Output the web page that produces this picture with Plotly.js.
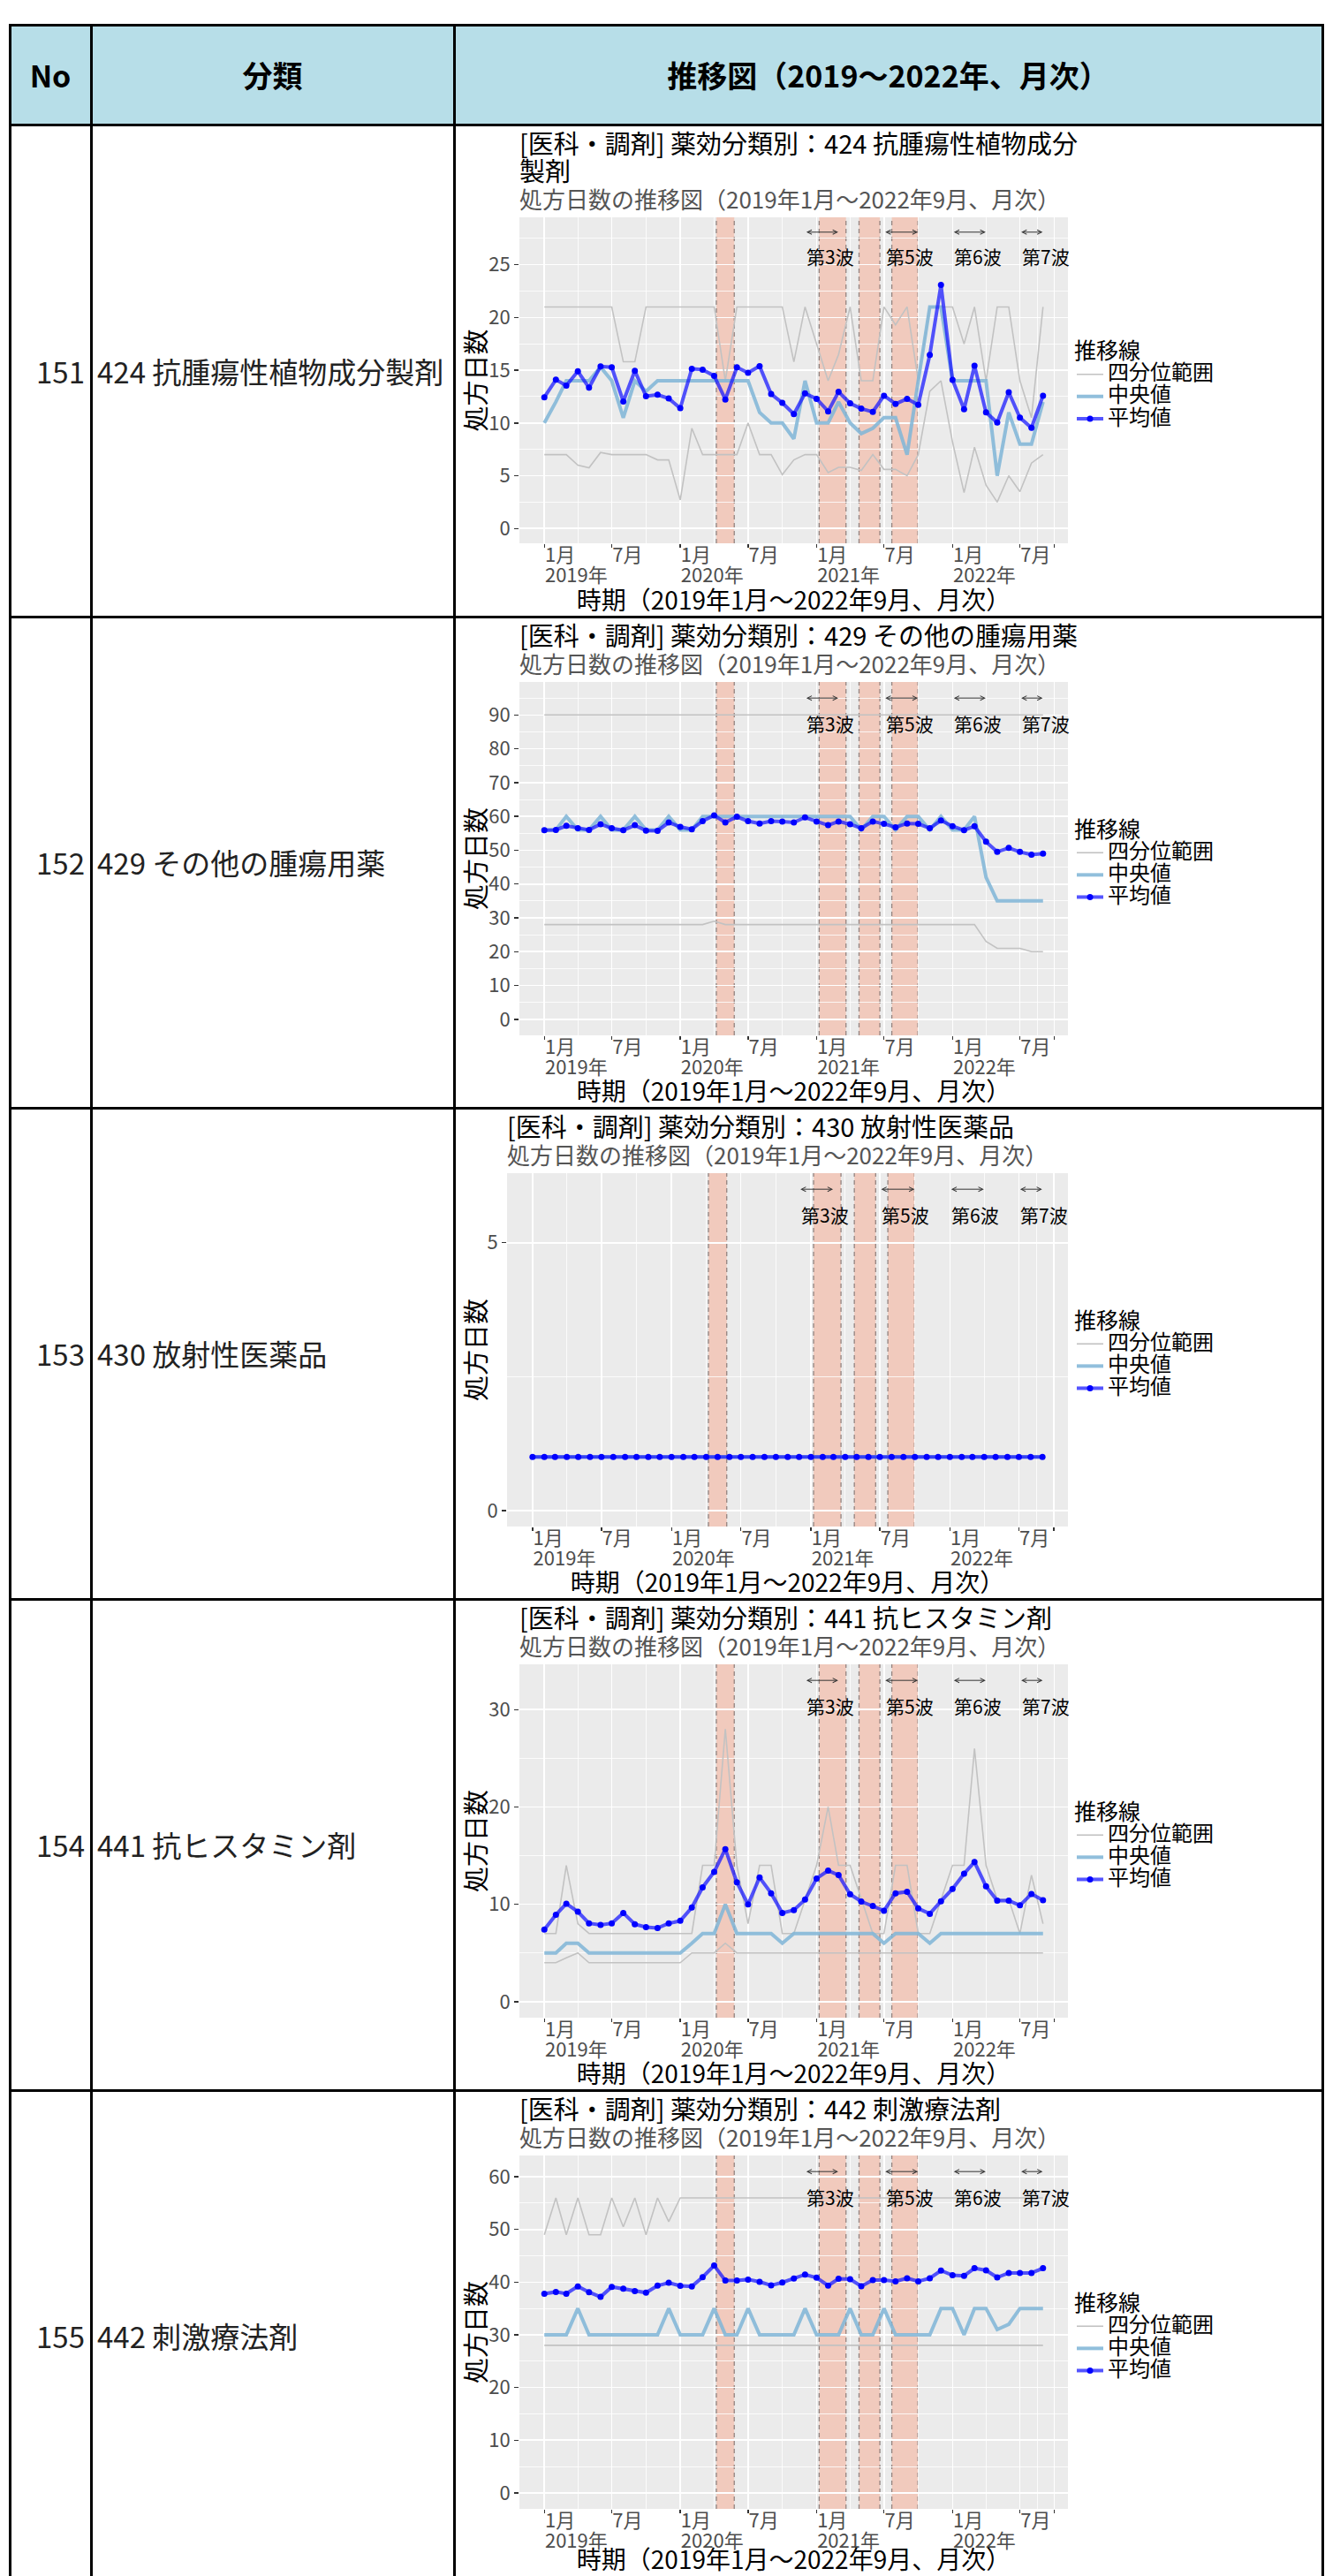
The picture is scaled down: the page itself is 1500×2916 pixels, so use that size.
<!DOCTYPE html>
<html lang="ja">
<head>
<meta charset="utf-8">
<title>推移図（2019～2022年、月次）</title>
<script src="https://cdn.plot.ly/plotly-3.0.1.min.js"></script>
<style>
  html, body { margin:0; padding:0; background:#fff; }
  body { width:1500px; height:2916px; overflow:hidden; position:relative; font-family:'Noto Sans CJK JP','Noto Sans',sans-serif; }
  .hdr { position:absolute; background:#B7DEE8; }
  .htxt { position:absolute; display:flex; align-items:center; justify-content:center; font-weight:700; font-size:34px; color:#000; white-space:nowrap; }
  .bline { position:absolute; background:#000; z-index:5; }
  .no { position:absolute; display:flex; align-items:center; justify-content:flex-end; font-size:33px; color:#222; padding-right:7px; box-sizing:border-box; }
  .cat { position:absolute; display:flex; align-items:center; justify-content:flex-start; font-size:33px; color:#222; padding-left:7px; box-sizing:border-box; white-space:nowrap; }
  .chart { position:absolute; }
</style>
</head>
<body>
<script>
// ---------------- data ----------------
const months = ['2019-01-01','2019-02-01','2019-03-01','2019-04-01','2019-05-01','2019-06-01','2019-07-01','2019-08-01','2019-09-01','2019-10-01','2019-11-01','2019-12-01',
  '2020-01-01','2020-02-01','2020-03-01','2020-04-01','2020-05-01','2020-06-01','2020-07-01','2020-08-01','2020-09-01','2020-10-01','2020-11-01','2020-12-01',
  '2021-01-01','2021-02-01','2021-03-01','2021-04-01','2021-05-01','2021-06-01','2021-07-01','2021-08-01','2021-09-01','2021-10-01','2021-11-01','2021-12-01',
  '2022-01-01','2022-02-01','2022-03-01','2022-04-01','2022-05-01','2022-06-01','2022-07-01','2022-08-01','2022-09-01'];

const rowNos = ['151','152','153','154','155'];
const rowLabels = ['424 抗腫瘍性植物成分製剤','429 その他の腫瘍用薬','430 放射性医薬品','441 抗ヒスタミン剤','442 刺激療法剤'];
const chartTitles = ['[医科・調剤] 薬効分類別：424 抗腫瘍性植物成分<br>製剤',
  '[医科・調剤] 薬効分類別：429 その他の腫瘍用薬',
  '[医科・調剤] 薬効分類別：430 放射性医薬品',
  '[医科・調剤] 薬効分類別：441 抗ヒスタミン剤',
  '[医科・調剤] 薬効分類別：442 刺激療法剤'];
const subTitle = '処方日数の推移図（2019年1月～2022年9月、月次）';
const xTitle = '時期（2019年1月～2022年9月、月次）';
const yTitle = '処方日数';
const headerTexts = ['No','分類','推移図（2019～2022年、月次）'];
const legendTitle = '推移線';
const seriesNames = ['四分位範囲','中央値','平均値'];

const xTickVals = ['2019-01-01','2019-07-01','2020-01-01','2020-07-01','2021-01-01','2021-07-01','2022-01-01','2022-07-01','2022-10-01'];
const xTickMonth = ['1月','7月','1月','7月','1月','7月','1月','7月',''];
const xTickYear  = ['2019年','','2020年','','2021年','','2022年','',''];
const xMinorVals = ['2019-04-01','2019-10-01','2020-04-01','2020-10-01','2021-04-01','2021-10-01','2022-04-01','2022-08-16'];

const emergencyStart = ['2020-04-07','2021-01-08','2021-04-25','2021-07-22'];
const emergencyEnd   = ['2020-05-25','2021-03-21','2021-06-20','2021-09-30'];
const waveLabels = ['第3波','第5波','第6波','第7波'];
const waveStart  = ['2020-12-01','2021-07-01','2022-01-01','2022-07-01'];
const waveEnd    = ['2021-02-28','2021-09-30','2022-03-31','2022-08-31'];

// 424
const mean424 = [12.44,14.1,13.55,14.9,13.35,15.36,15.28,12.04,14.94,12.54,12.68,12.32,11.4,15.14,15.06,14.47,12.23,15.28,14.75,15.39,12.74,11.9,10.84,12.8,12.29,11.1,12.95,11.87,11.36,11.06,12.59,11.81,12.29,11.72,16.45,23.09,14.08,11.3,15.43,11.0,10.05,12.92,10.5,9.54,12.59];
const med424  = [10,12,14,14,14,15.3,14,10.5,14,13,14,14,14,14,14,14,14,14,14,11,10,10,8.5,14,10,10,12,10,9,9.5,10.5,10.5,7,14,21,21,14,14,14,14,5,11,8,8,12];
const q1_424  = [7,7,7,6,5.75,7.2,7,7,7,7,6.5,6.5,2.7,9.5,7,7,7,7,10,7,7,5.1,6.5,7,7,5.3,5.8,5.8,5.5,7,5.6,5.6,5,7,13,14,8.2,3.4,7.7,4.1,2.5,5,3.5,6.2,7];
const q3_424  = [21,21,21,21,21,21,21,15.8,15.8,21,21,21,21,21,21,21,14,21,21,21,21,21,15.8,21,17.5,14,16.5,21,14,14,21,19.3,21,14,21,21,21,17.5,21,14,21,21,14,10.5,21];
// 429
const mean429 = [55.94,56.0,57.2,56.5,56.0,57.7,56.5,55.9,57.4,55.8,55.75,58.2,56.9,56.2,58.6,60.3,58.2,59.9,58.6,57.9,58.6,58.5,58.2,59.7,58.5,57.4,58.5,57.7,56.5,58.5,57.8,56.8,57.9,57.8,56.5,58.8,57.1,55.9,57.1,52.5,49.5,50.7,49.5,48.7,49.0];
const med429  = [56,56,60,56,56,60,56,56,60,56,56,60,56,56,60,60,60,60,60,60,60,60,60,60,60,60,60,60,56,60,60,56,60,60,56,60,56,56,60,42,35,35,35,35,35];
const q1_429  = [28,28,28,28,28,28,28,28,28,28,28,28,28,28,28,29,28,28,28,28,28,28,28,28,28,28,28,28,28,28,28,28,28,28,28,28,28,28,28,23,21,21,21,20,20];
const q3_429  = [90,90,90,90,90,90,90,90,90,90,90,90,90,90,90,90,90,90,90,90,90,90,90,90,90,90,90,90,90,90,90,90,90,90,90,90,90,90,90,90,90,90,90,90,90];
// 430
const mean430 = [1,1,1,1,1,1,1,1,1,1,1,1,1,1,1,1,1,1,1,1,1,1,1,1,1,1,1,1,1,1,1,1,1,1,1,1,1,1,1,1,1,1,1,1,1];
const med430  = [1,1,1,1,1,1,1,1,1,1,1,1,1,1,1,1,1,1,1,1,1,1,1,1,1,1,1,1,1,1,1,1,1,1,1,1,1,1,1,1,1,1,1,1,1];
const q1_430  = [1,1,1,1,1,1,1,1,1,1,1,1,1,1,1,1,1,1,1,1,1,1,1,1,1,1,1,1,1,1,1,1,1,1,1,1,1,1,1,1,1,1,1,1,1];
const q3_430  = [1,1,1,1,1,1,1,1,1,1,1,1,1,1,1,1,1,1,1,1,1,1,1,1,1,1,1,1,1,1,1,1,1,1,1,1,1,1,1,1,1,1,1,1,1];
// 441
const mean441 = [7.4,8.92,10.06,9.24,8.04,7.88,8.04,9.11,7.95,7.65,7.56,8.04,8.3,9.67,11.74,13.33,15.67,12.26,9.99,12.75,11.13,9.11,9.41,10.48,12.65,13.46,13.0,11.03,10.28,9.83,9.34,11.13,11.29,9.57,9.02,10.31,11.58,13.14,14.34,11.84,10.38,10.38,9.89,11.06,10.41];
const med441  = [5,5,6,6,5,5,5,5,5,5,5,5,5,6,7,7,10,7,7,7,7,6,7,7,7,7,7,7,7,7,6,7,7,7,6,7,7,7,7,7,7,7,7,7,7];
const q1_441  = [4,4,4.5,5,4,4,4,4,4,4,4,4,4,5,5,5,6,5,5,5,5,5,5,5,5,5,5,5,5,5,5,5,5,5,5,5,5,5,5,5,5,5,5,5,5];
const q3_441  = [7,7,14,8,7,7,7,7,7,7,7,7,7,7,14,14,28,14,8,14,14,7,7,10.5,14,20,14,14,10.5,7,7,14,14,7,7,10.5,14,14,26,14,10.5,10.5,7,13,8];
// 442
const mean442 = [37.8,38.15,37.8,39.2,38.1,37.2,39.1,38.75,38.3,38.0,39.35,39.9,39.3,39.2,40.95,43.15,40.3,40.3,40.5,40.06,39.4,39.94,40.7,41.45,40.85,39.35,40.65,40.55,39.22,40.4,40.4,40.15,40.75,40.15,40.75,42.2,41.3,41.2,42.65,42.25,40.9,41.75,41.75,41.75,42.65];
const med442  = [30,30,30,35,30,30,30,30,30,30,30,35,30,30,30,35,30,30,35,30,30,30,30,35,30,30,30,35,30,30,35,30,30,30,30,35,35,30,35,35,31,32,35,35,35];
const q1_442  = [28,28,28,28,28,28,28,28,28,28,28,28,28,28,28,28,28,28,28,28,28,28,28,28,28,28,28,28,28,28,28,28,28,28,28,28,28,28,28,28,28,28,28,28,28];
const q3_442  = [49,56,49,56,49,49,56,50.5,56,49,56,51.5,56,56,56,56,56,56,56,56,56,56,56,56,56,56,56,56,56,56,56,56,56,56,56,56,56,56,56,56,56,56,56,56,56];

// ---------------- layout settings ----------------
const FONT = "'Noto Sans CJK JP','Noto Sans',sans-serif";
const ROW_Y = [28, 141, 698, 1254, 1810, 2366, 2922];
const COL_X = [11, 103, 514, 1497];
const PAGE_H = 2916;
const yDtick = [5, 10, 5, 10, 10];
const COLORS = { iqr:'#C2C2C2', med:'rgba(130,182,215,0.88)', meanLine:'rgba(20,20,255,0.72)', meanPt:'#0000FF',
  band:'#F1CABD', bandEdge:'rgba(125,110,108,0.8)', panel:'#EBEBEB', tick:'#4D4D4D' };

const seriesList = [
  {mean: mean424, med: med424, q1: q1_424, q3: q3_424},
  {mean: mean429, med: med429, q1: q1_429, q3: q3_429},
  {mean: mean430, med: med430, q1: q1_430, q3: q3_430},
  {mean: mean441, med: med441, q1: q1_441, q3: q3_441},
  {mean: mean442, med: med442, q1: q1_442, q3: q3_442}
];

function el(cls, l, t, w, h, txt) {
  const d = document.createElement('div');
  d.className = cls;
  d.style.left = l + 'px'; d.style.top = t + 'px';
  d.style.width = w + 'px'; d.style.height = h + 'px';
  if (txt !== undefined) d.textContent = txt;
  document.body.appendChild(d);
  return d;
}

// header
el('hdr', COL_X[0], ROW_Y[0], COL_X[3] - COL_X[0], ROW_Y[1] - ROW_Y[0]);
for (let c = 0; c < 3; c++) {
  el('htxt', COL_X[c], ROW_Y[0], COL_X[c+1] - COL_X[c], ROW_Y[1] - ROW_Y[0], headerTexts[c]);
}
// row texts
for (let r = 0; r < rowNos.length; r++) {
  const top = ROW_Y[r+1], h = ROW_Y[r+2] - ROW_Y[r+1];
  el('no', COL_X[0], top, COL_X[1] - COL_X[0], h, rowNos[r]);
  el('cat', COL_X[1], top, COL_X[2] - COL_X[1], h, rowLabels[r]);
}
// borders
ROW_Y.slice(0, 6).forEach(y => el('bline', COL_X[0] - 1.5, y - 1.5, COL_X[3] - COL_X[0] + 3, 3));
COL_X.forEach(x => el('bline', x - 1.5, ROW_Y[0] - 1.5, 3, PAGE_H - ROW_Y[0] + 10));

// x range: 5% expansion like ggplot
function fmt(ms) { return new Date(ms).toISOString().slice(0, 19).replace('T', ' '); }
const tFirst = Date.parse(months[0]), tLast = Date.parse(months[months.length - 1]);
const tPad = 0.05 * (tLast - tFirst);
const xRange = [fmt(tFirst - tPad), fmt(tLast + tPad)];

const SPAN = (size, color, t) => '<span style="font-size:' + size + 'px' + (color ? ';color:' + color : '') + '">' + t + '</span>';
const xTickText = xTickMonth.map((m, k) => xTickYear[k] ? SPAN(22, null, m) + '<br>' + SPAN(22, null, xTickYear[k]) : SPAN(22, null, m));

function buildChart(i) {
  const s = seriesList[i];
  const maxV = Math.max(...s.mean, ...s.med, ...s.q1, ...s.q3);
  const A = maxV + 5;
  const titleLines = chartTitles[i].split('<br>');
  const extraLines = titleLines.length - 1;
  const rowY = ROW_Y[i+1], rowH = ROW_Y[i+2] - ROW_Y[i+1];
  const divTop = rowY - 10;
  const divBottom = Math.min(rowY + rowH, PAGE_H);
  const panelBottom = rowY + 474;
  const H = divBottom - divTop, W = 980;
  const leftM = A >= 10 ? 72 : 58;

  const titleText = titleLines.map(t => SPAN(29, '#000000', t)).join('<br>') + '<br>' + SPAN(26, '#555555', subTitle);

  const traces = [
    {x: months, y: s.q1, type: 'scatter', mode: 'lines', name: SPAN(24, null, seriesNames[0]), legendgroup: 'iqr',
     line: {color: COLORS.iqr, width: 1.6}},
    {x: months, y: s.q3, type: 'scatter', mode: 'lines', name: SPAN(24, null, seriesNames[0]), legendgroup: 'iqr', showlegend: false,
     line: {color: COLORS.iqr, width: 1.6}},
    {x: months, y: s.med, type: 'scatter', mode: 'lines', name: SPAN(24, null, seriesNames[1]),
     line: {color: COLORS.med, width: 4}},
    {x: months, y: s.mean, type: 'scatter', mode: 'lines+markers', name: SPAN(24, null, seriesNames[2]),
     line: {color: COLORS.meanLine, width: 4}, marker: {color: COLORS.meanPt, size: 7}}
  ];

  const shapes = [];
  for (let k = 0; k < emergencyStart.length; k++) {
    shapes.push({type: 'rect', xref: 'x', yref: 'paper', x0: emergencyStart[k], x1: emergencyEnd[k], y0: 0, y1: 1,
      fillcolor: COLORS.band, line: {width: 0}, layer: 'between'});
    [emergencyStart[k], emergencyEnd[k]].forEach(d => shapes.push({type: 'line', xref: 'x', yref: 'paper',
      x0: d, x1: d, y0: 0, y1: 1, line: {color: COLORS.bandEdge, width: 1.3, dash: '5px,4px'}, layer: 'between'}));
  }

  const annotations = [];
  for (let k = 0; k < waveLabels.length; k++) {
    annotations.push({x: waveEnd[k], y: A, ax: waveStart[k], ay: A, xref: 'x', yref: 'y', axref: 'x', ayref: 'y',
      text: '', showarrow: true, arrowside: 'end+start', arrowhead: 5, startarrowhead: 5,
      arrowsize: 1, startarrowsize: 1, arrowwidth: 1, arrowcolor: '#333333', standoff: 0, startstandoff: 0});
    annotations.push({x: waveStart[k], y: 0.92 * A, xref: 'x', yref: 'y', text: waveLabels[k], showarrow: false,
      xanchor: 'left', yanchor: 'middle', font: {family: FONT, size: 21, color: '#000'}});
  }

  const layout = {
    width: W, height: H,
    margin: {l: leftM, r: 287, t: 84 + 31 * extraLines, b: divBottom - panelBottom, pad: 0},
    paper_bgcolor: 'rgba(0,0,0,0)',
    plot_bgcolor: COLORS.panel,
    font: {family: FONT, color: '#000'},
    title: {text: titleText, x: 0, xref: 'paper', xanchor: 'left', y: 1 - 43 / H, yref: 'container', yanchor: 'top',
      font: {family: FONT, size: 24, color: '#555555'}},
    xaxis: {
      type: 'date', range: xRange, tickmode: 'array', tickvals: xTickVals, ticktext: xTickText,
      ticks: 'outside', ticklen: 4, tickwidth: 1.4, tickcolor: '#333333', ticklabelstandoff: 0,
      tickfont: {family: FONT, size: 17, color: COLORS.tick}, ticklabelposition: 'outside right',
      showgrid: true, gridcolor: '#FFFFFF', gridwidth: 1.6, zeroline: false, showline: false,
      minor: {tickmode: 'array', tickvals: xMinorVals, showgrid: true, gridcolor: '#FFFFFF', gridwidth: 0.8, ticks: ''},
      title: {text: xTitle, font: {family: FONT, size: 28, color: '#000'}, standoff: 4}
    },
    yaxis: {
      range: [-0.05 * A, 1.05 * A], tickmode: 'linear', tick0: 0, dtick: yDtick[i],
      ticks: 'outside', ticklen: 5, tickwidth: 1.4, tickcolor: '#333333',
      tickfont: {family: FONT, size: 22, color: COLORS.tick},
      showgrid: true, gridcolor: '#FFFFFF', gridwidth: 1.6, zeroline: false, showline: false,
      minor: {tick0: 0, dtick: yDtick[i] / 2, showgrid: true, gridcolor: '#FFFFFF', gridwidth: 0.8, ticks: ''},
      title: {text: yTitle, font: {family: FONT, size: 29, color: '#000'}, standoff: 13}
    },
    showlegend: true,
    legend: {x: (1214 - COL_X[2] - 2) / W, xref: 'container', xanchor: 'left', y: 0.5, yanchor: 'middle',
      bgcolor: 'rgba(0,0,0,0)', traceorder: 'normal', tracegroupgap: 0, itemwidth: 30,
      font: {family: FONT, size: 17, color: '#000'},
      title: {text: SPAN(25, null, legendTitle), font: {family: FONT, size: 29, color: '#000'}}},
    shapes: shapes,
    annotations: annotations
  };

  const div = el('chart', COL_X[2] + 2, divTop, W, H);
  div.id = 'chart' + i;
  Plotly.newPlot(div, traces, layout, {staticPlot: true, displayModeBar: false});
}

for (let i = 0; i < seriesList.length; i++) buildChart(i);
</script>
</body>
</html>
